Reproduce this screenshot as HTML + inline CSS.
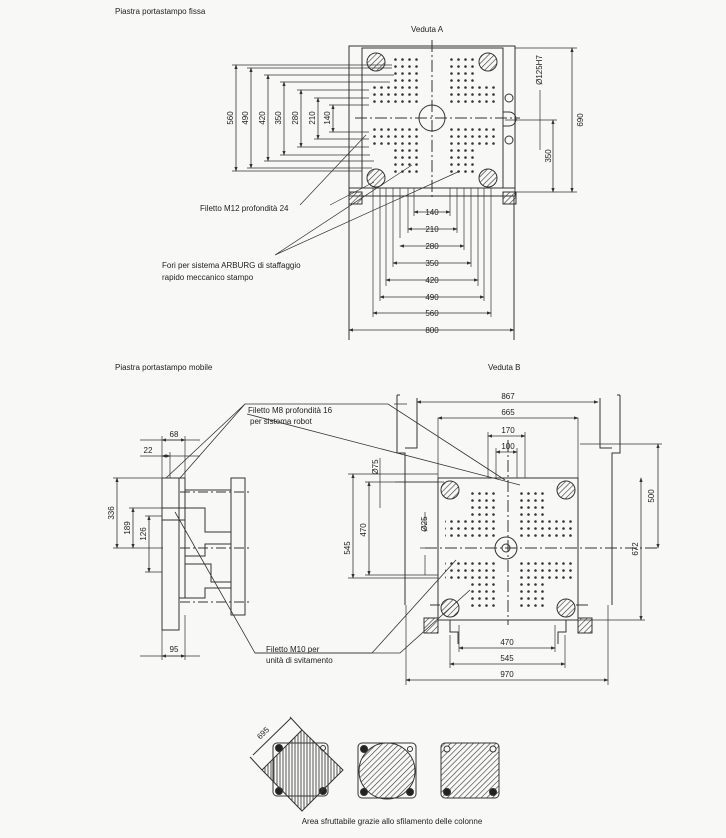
<!DOCTYPE html>
<html><head><meta charset="utf-8"><style>
html,body{margin:0;padding:0;background:#f8f8f6;}
svg{display:block;}
text{font-family:"Liberation Sans",sans-serif;fill:#222;}
</style></head><body>
<svg width="726" height="838" viewBox="0 0 726 838" xmlns="http://www.w3.org/2000/svg">
<defs>
<pattern id="h" width="4" height="4" patternUnits="userSpaceOnUse" patternTransform="rotate(45)"><line x1="0" y1="0" x2="0" y2="4" stroke="#333" stroke-width="1.2"/></pattern>
<pattern id="hv" width="3" height="3" patternUnits="userSpaceOnUse"><line x1="1" y1="0" x2="1" y2="3" stroke="#444" stroke-width="0.9"/></pattern>
<pattern id="d" width="7" height="7" patternUnits="userSpaceOnUse"><circle cx="3.5" cy="3.5" r="1.3" fill="#333"/></pattern>
<marker id="a" markerWidth="6" markerHeight="6" refX="5" refY="3" orient="auto-start-reverse"><path d="M0,1 L6,3 L0,5z" fill="#333"/></marker>
</defs>
<rect width="726" height="838" fill="#f8f8f6"/>
<g fill="none" stroke="#333" stroke-width="1">

<rect x="349" y="46" width="166" height="150"/>
<rect x="362" y="48" width="141" height="140"/>
<path d="M503 112 h6 a6 6 0 0 1 0 14 h-6"/>
<rect x="349" y="188" width="166" height="8"/>
<rect x="349" y="192" width="13" height="12" fill="url(#h)"/>
<rect x="503" y="192" width="13" height="12" fill="url(#h)"/>
<line x1="349" y1="196" x2="349" y2="340"/><line x1="514" y1="196" x2="514" y2="340"/>
<line x1="432" y1="40" x2="432" y2="200" stroke-dasharray="12 3 2 3"/>
<line x1="355" y1="118" x2="520" y2="118" stroke-dasharray="12 3 2 3"/>
<circle cx="432" cy="118" r="13"/>
<circle cx="376" cy="62" r="9" fill="url(#h)"/><circle cx="488" cy="62" r="9" fill="url(#h)"/>
<circle cx="376" cy="178" r="9" fill="url(#h)"/><circle cx="488" cy="178" r="9" fill="url(#h)"/>
<circle cx="509" cy="98" r="4"/><circle cx="509" cy="140" r="4"/>
</g>
<g stroke="none">
<rect x="392" y="58" width="28" height="28" fill="url(#d)"/>
<rect x="371" y="86" width="49" height="21" fill="url(#d)"/>
<rect x="448" y="58" width="28" height="28" fill="url(#d)"/>
<rect x="448" y="86" width="49" height="21" fill="url(#d)"/>
<rect x="371" y="128" width="49" height="21" fill="url(#d)"/>
<rect x="392" y="149" width="28" height="28" fill="url(#d)"/>
<rect x="448" y="128" width="49" height="21" fill="url(#d)"/>
<rect x="448" y="149" width="28" height="28" fill="url(#d)"/>
</g>
<g fill="none" stroke="#333" stroke-width="0.8" marker-start="url(#a)" marker-end="url(#a)">
<line x1="236" y1="65" x2="236" y2="171"/>
<line x1="251" y1="68" x2="251" y2="168"/>
<line x1="268" y1="75" x2="268" y2="161"/>
<line x1="284" y1="82" x2="284" y2="155"/>
<line x1="301" y1="90" x2="301" y2="147"/>
<line x1="318" y1="98" x2="318" y2="139"/>
<line x1="333" y1="105" x2="333" y2="132"/>
<line x1="572" y1="48" x2="572" y2="192"/>
<line x1="553" y1="120" x2="553" y2="192"/>
<line x1="414" y1="212" x2="450" y2="212"/>
<line x1="408" y1="229" x2="457" y2="229"/>
<line x1="400" y1="246" x2="464" y2="246"/>
<line x1="393" y1="263" x2="471" y2="263"/>
<line x1="386" y1="280" x2="478" y2="280"/>
<line x1="380" y1="297" x2="484" y2="297"/>
<line x1="373" y1="313" x2="491" y2="313"/>
<line x1="349" y1="330" x2="514" y2="330"/>
</g>
<g fill="none" stroke="#333" stroke-width="0.7">
<path d="M232 65h160M247 68h145M264 75h130M280 82h110M297 90h72M314 98h55M329 105h40M329 132h40M314 139h55M297 147h72M280 155h90M264 161h110M247 168h125M232 171h130"/>
<path d="M414 188v28M450 188v28M408 188v45M457 188v45M400 188v50M464 188v62M393 188v79M471 188v79M386 188v98M478 188v98M380 188v113M484 188v113M373 188v129M491 188v129"/>
<path d="M515 48h62M515 192h62M505 120h52"/>
<line x1="540" y1="90" x2="540" y2="150"/>
<path d="M300 205 L366 135 M330 205 L374 182"/>
<path d="M275 255 L412 165 M275 255 L460 171"/>
</g>

<g fill="none" stroke="#333" stroke-width="1">
<path d="M397 395v58h8v152M405 448h12v-50"/>
<path d="M620 395v58h-8v152M612 448h-12v-50"/>
<path d="M397 395h3M617 395h3"/>
<rect x="438" y="478" width="140" height="142"/>
<line x1="508" y1="440" x2="508" y2="625" stroke-dasharray="12 3 2 3"/>
<line x1="425" y1="548" x2="660" y2="548" stroke-dasharray="12 3 2 3"/>
<circle cx="450" cy="490" r="9" fill="url(#h)"/><circle cx="566" cy="490" r="9" fill="url(#h)"/>
<circle cx="450" cy="608" r="9" fill="url(#h)"/><circle cx="566" cy="608" r="9" fill="url(#h)"/>
<circle cx="506" cy="548" r="11"/><circle cx="506" cy="548" r="4"/>
<rect x="424" y="618" width="14" height="15" fill="url(#h)"/>
<rect x="578" y="618" width="14" height="15" fill="url(#h)"/>
<path d="M430 605h10M576 605h12M450 620v12h8v12M566 620v12h-8v12"/>
</g>
<g stroke="none">
<rect x="470" y="488" width="28" height="28" fill="url(#d)"/>
<rect x="445" y="516" width="53" height="21" fill="url(#d)"/>
<rect x="519" y="488" width="28" height="28" fill="url(#d)"/>
<rect x="519" y="516" width="53" height="21" fill="url(#d)"/>
<rect x="445" y="560" width="53" height="21" fill="url(#d)"/>
<rect x="470" y="581" width="28" height="28" fill="url(#d)"/>
<rect x="519" y="560" width="53" height="21" fill="url(#d)"/>
<rect x="519" y="581" width="28" height="28" fill="url(#d)"/>
</g>
<g fill="none" stroke="#333" stroke-width="0.8" marker-start="url(#a)" marker-end="url(#a)">
<line x1="417" y1="402" x2="598" y2="402"/>
<line x1="438" y1="418" x2="578" y2="418"/>
<line x1="488" y1="436" x2="525" y2="436"/>
<line x1="496" y1="452" x2="517" y2="452"/>
<line x1="658" y1="444" x2="658" y2="548"/>
<line x1="641" y1="478" x2="641" y2="620"/>
<line x1="459" y1="648" x2="555" y2="648"/>
<line x1="450" y1="664" x2="565" y2="664"/>
<line x1="406" y1="680" x2="608" y2="680"/>
<line x1="353" y1="474" x2="353" y2="578"/>
<line x1="369" y1="482" x2="369" y2="575"/>
</g>
<g fill="none" stroke="#333" stroke-width="0.7">
<path d="M438 418v60M578 418v60M488 432v46M525 432v46M496 448v30M517 448v30"/>
<path d="M580 444h82M580 620h65"/>
<path d="M459 625v27M555 625v27M450 635v33M565 635v33M406 605v80M608 605v80"/>
<path d="M348 474h90M365 482h73M365 575h73M348 578h90"/>
<path d="M380 458v20M380 478v30M425 512v20M425 555v20M420 548h10"/>
<path d="M395 482 L444 482"/>
</g>

<g fill="none" stroke="#333" stroke-width="1">
<rect x="162" y="478" width="17" height="152"/>
<rect x="179" y="478" width="6" height="120"/>
<rect x="231" y="478" width="14" height="137"/>
<path d="M185 490h46M185 508h20v24h26M185 556h20v-12h26M185 564h26v18h20M185 598h20v-10h26"/>
<path d="M162 508h23M162 520h23"/>
<line x1="180" y1="492" x2="250" y2="492" stroke-dasharray="10 3 2 3"/>
<line x1="180" y1="548" x2="250" y2="548" stroke-dasharray="10 3 2 3"/>
<line x1="180" y1="602" x2="250" y2="602" stroke-dasharray="10 3 2 3"/>
</g>
<g fill="none" stroke="#333" stroke-width="0.8" marker-start="url(#a)" marker-end="url(#a)">
<line x1="162" y1="440" x2="185" y2="440"/>
<line x1="162" y1="456" x2="170" y2="456"/>
<line x1="117" y1="478" x2="117" y2="548"/>
<line x1="133" y1="508" x2="133" y2="548"/>
<line x1="149" y1="516" x2="149" y2="572"/>
<line x1="162" y1="656" x2="185" y2="656"/>
</g>
<g fill="none" stroke="#333" stroke-width="0.7">
<path d="M162 436v42M185 436v42M170 452v26M140 440h60M140 456h60"/>
<path d="M113 478h50M129 508h33M145 516h17M113 548h50M145 572h17"/>
<path d="M162 630v30M185 615v45M140 656h60"/>
</g>
<g fill="none" stroke="#333" stroke-width="0.8">
<path d="M166 478 L245 404 L388 404 L505 480 M180 478 L245 404 M394 404 L407 404"/>
<path d="M247 414 L520 485"/>
<path d="M175 512 L255 653 L372 653 L456 560"/>
<path d="M255 653 L400 653 L470 590"/>
</g>

<g fill="none" stroke="#333" stroke-width="1">
<rect x="273" y="743" width="55" height="53" rx="4"/>
<circle cx="279" cy="748" r="3.5" fill="#222"/><circle cx="323" cy="748" r="2.5"/>
<circle cx="279" cy="791" r="3.5" fill="#222"/><circle cx="323" cy="791" r="3.5" fill="#222"/>
<polygon points="302,730 343,770 302,811 262,770" fill="url(#hv)"/>
<path d="M262 770 L250 757 M302 730 L290 717 M253 755 L291 718"/>
<rect x="358" y="743" width="58" height="55" rx="4"/>
<circle cx="387" cy="771" r="28" fill="url(#h)"/>
<circle cx="364" cy="749" r="3.5" fill="#222"/><circle cx="410" cy="749" r="2.5"/>
<circle cx="364" cy="792" r="3.5" fill="#222"/><circle cx="410" cy="792" r="3.5" fill="#222"/>
<rect x="441" y="743" width="58" height="55" rx="4" fill="url(#h)"/>
<circle cx="447" cy="749" r="3" fill="#f8f8f6"/><circle cx="493" cy="749" r="3" fill="#f8f8f6"/>
<circle cx="447" cy="792" r="3.5" fill="#222"/><circle cx="493" cy="792" r="3.5" fill="#222"/>
</g>

<g font-size="8">
<text x="115" y="14">Piastra portastampo fissa</text>
<text x="411" y="32">Veduta A</text>
<text x="200" y="211">Filetto M12 profondità 24</text>
<text x="162" y="268">Fori per sistema ARBURG di staffaggio</text>
<text x="162" y="280">rapido meccanico stampo</text>
<text x="115" y="370">Piastra portastampo mobile</text>
<text x="488" y="370">Veduta B</text>
<text x="248" y="413">Filetto M8 profondità 16</text>
<text x="250" y="424">per sistema robot</text>
<text x="266" y="652">Filetto M10 per</text>
<text x="266" y="663">unità di svitamento</text>
<text x="392" y="824" text-anchor="middle">Area sfruttabile grazie allo sfilamento delle colonne</text>
</g>
<g font-size="8" text-anchor="middle">
<text x="432" y="215">140</text><text x="432" y="232">210</text><text x="432" y="249">280</text>
<text x="432" y="266">350</text><text x="432" y="283">420</text><text x="432" y="300">490</text>
<text x="432" y="316">560</text><text x="432" y="333">800</text>
<text x="508" y="399">867</text><text x="508" y="415">665</text><text x="508" y="433">170</text>
<text x="508" y="449">100</text><text x="507" y="645">470</text><text x="507" y="661">545</text>
<text x="507" y="677">970</text>
<text x="174" y="437">68</text><text x="148" y="453">22</text><text x="174" y="652">95</text>
</g>
<g font-size="8" text-anchor="middle">
<text transform="translate(233,118) rotate(-90)">560</text>
<text transform="translate(248,118) rotate(-90)">490</text>
<text transform="translate(265,118) rotate(-90)">420</text>
<text transform="translate(281,118) rotate(-90)">350</text>
<text transform="translate(298,118) rotate(-90)">280</text>
<text transform="translate(315,118) rotate(-90)">210</text>
<text transform="translate(330,118) rotate(-90)">140</text>
<text transform="translate(542,70) rotate(-90)">Ø125H7</text>
<text transform="translate(583,120) rotate(-90)">690</text>
<text transform="translate(551,156) rotate(-90)">350</text>
<text transform="translate(654,496) rotate(-90)">500</text>
<text transform="translate(638,549) rotate(-90)">672</text>
<text transform="translate(350,548) rotate(-90)">545</text>
<text transform="translate(366,530) rotate(-90)">470</text>
<text transform="translate(378,467) rotate(-90)">Ø75</text>
<text transform="translate(427,524) rotate(-90)">Ø25</text>
<text transform="translate(114,513) rotate(-90)">336</text>
<text transform="translate(130,528) rotate(-90)">189</text>
<text transform="translate(146,534) rotate(-90)">126</text>
<text transform="translate(265,735) rotate(-45)">695</text>
</g>
</svg>
</body></html>
